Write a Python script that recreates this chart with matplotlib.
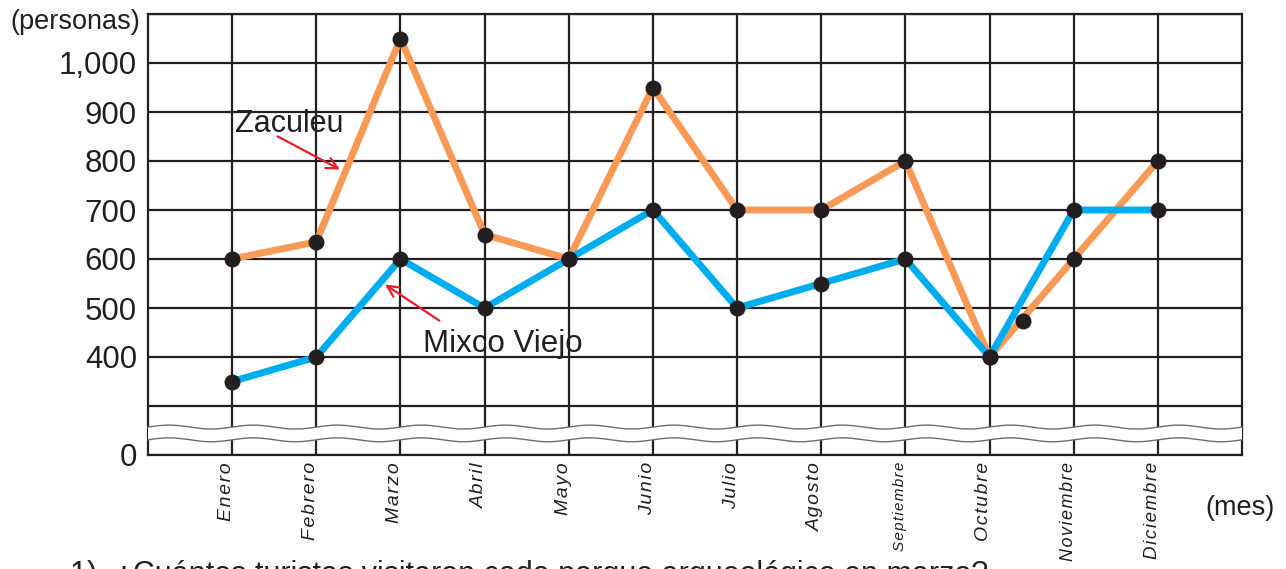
import numpy as np
import matplotlib
matplotlib.use("Agg")
import matplotlib.pyplot as plt
from matplotlib.patches import Polygon

plt.rcParams['font.family'] = ['Liberation Sans', 'DejaVu Sans']

# ---------------- data ----------------
months = ["Enero", "Febrero", "Marzo", "Abril", "Mayo", "Junio", "Julio",
          "Agosto", "Septiembre", "Octubre", "Noviembre", "Diciembre"]
zaculeu = [600, 635, 1050, 650, 600, 950, 700, 700, 800, 400, 600, 800]
mixco_viejo = [350, 400, 600, 500, 600, 700, 500, 550, 600, 400, 700, 700]
extra_point_x = [10.4]
extra_point_y = [473]
ytick_values = [200, 300, 400, 500, 600, 700, 800, 900, 1000, 1100]
ytick_labels = ["0", "", "400", "500", "600", "700", "800", "900", "1,000", ""]

# ---------------- figure ----------------
W, H = 1286, 569
fig = plt.figure(figsize=(W / 100, H / 100), dpi=100)
ax = fig.add_axes([148 / W, 1 - 455 / H, (1242 - 148) / W, (455 - 14) / H])

x = np.arange(1, len(months) + 1)
ax.set_xlim(0, 13)
ax.set_ylim(200, 1100)

dark = '#231f20'
orange = '#F79A55'
blue = '#00AEEF'
red = '#ED1C24'

# grid
ax.set_xticks(x)
ax.set_yticks(ytick_values)
ax.grid(True, color=dark, linewidth=1.6, zorder=1)
ax.set_axisbelow(True)
for s in ax.spines.values():
    s.set_color(dark)
    s.set_linewidth(1.6)

ax.tick_params(length=0)
ax.set_yticklabels(ytick_labels, fontsize=22.5, color=dark)
ax.tick_params(axis='y', pad=8)
ax.set_xticklabels([])

# month labels (tracked letters)
hair = "\u200a"
sizes = {"Septiembre": 11, "Noviembre": 13, "Diciembre": 13.5}
for xi, m in zip(x, months):
    fs = sizes.get(m, 14)
    ax.annotate(hair.join(m), xy=(xi, 200), xycoords='data', xytext=(-4, -5),
                textcoords='offset points', rotation=90, ha='center', va='top',
                fontsize=fs, style='italic', color=dark)

# lines
ax.plot(x, zaculeu, color=orange, linewidth=5, zorder=4, solid_capstyle='round')
ax.plot(x, mixco_viejo, color=blue, linewidth=5, zorder=4, solid_capstyle='round')
ax.scatter(x, zaculeu, s=110, color=dark, zorder=6, clip_on=False)
ax.scatter(x, mixco_viejo, s=110, color=dark, zorder=6, clip_on=False)
ax.scatter(extra_point_x, extra_point_y, s=110, color=dark, zorder=6)

# axis break (wavy band)
xs = np.linspace(0, 13, 600)
top = 257 + 4 * np.sin(2 * np.pi * xs / 1.0)
bot = 231 + 4 * np.sin(2 * np.pi * xs / 1.0)
verts = np.concatenate([np.column_stack([xs, top]), np.column_stack([xs[::-1], bot[::-1]])])
ax.add_patch(Polygon(verts, closed=True, facecolor='white', edgecolor='none',
                     zorder=3, clip_on=False))
ax.plot(xs, top, color='#6d6d6d', linewidth=1.0, zorder=3.1, clip_on=False)
ax.plot(xs, bot, color='#6d6d6d', linewidth=1.0, zorder=3.1, clip_on=False)

# annotations
ax.text(1.036, 859, "Zaculeu", fontsize=22, color=dark, va='baseline', ha='left', zorder=7)
ax.annotate("", xy=(2.31, 780), xytext=(1.51, 853),
            arrowprops=dict(arrowstyle='->', color=red, lw=1.6,
                            mutation_scale=20), zorder=7)
ax.text(3.27, 410, "Mixco Viejo", fontsize=22.5, color=dark, va='baseline', ha='left', zorder=7)
ax.annotate("", xy=(2.79, 551), xytext=(3.49, 471),
            arrowprops=dict(arrowstyle='->', color=red, lw=1.6,
                            mutation_scale=20), zorder=7)

# axis titles
fig.text(10 / W, 1 - 22 / H, "(personas)", fontsize=19.5, color=dark, ha='left', va='center')
fig.text(1205 / W, 1 - 508 / H, "(mes)", fontsize=19.5, color=dark, ha='left', va='center')

# question text (cut at bottom, as in the reference)
fig.text(70 / W, 1 - 583 / H,
         "1)  ¿Cuántos turistas visitaron cada parque arqueológico en marzo?",
         fontsize=22, color=dark, ha='left', va='baseline')

fig.savefig("out.png", dpi=100)
